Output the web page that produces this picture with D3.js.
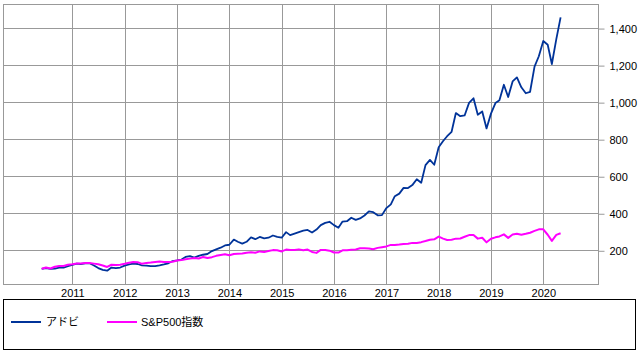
<!DOCTYPE html>
<html>
<head>
<meta charset="utf-8">
<script src="https://cdn.jsdelivr.net/npm/d3@7"></script>
<style>
  body { margin: 0; background: #fff; }
  text { font-family: "Liberation Sans", "Noto Sans CJK JP", sans-serif; font-size: 11px; fill: #000; }
</style>
</head>
<body>
<div id="drawing"></div>
<script>
// monthly points, June 2010 .. May 2020 (value indexed to 100 at start)
var firstMonth = new Date(2010, 5, 1);
var lastMonth = new Date(2020, 4, 1);

var adobe = [
  100, 104, 100, 101, 106, 106, 114,
  121, 128, 126, 129, 130, 118, 104, 94, 90, 107, 104, 107,
  117, 124, 128, 126, 119, 117, 115, 115, 119, 124, 130, 142,
  145, 150, 164, 169, 160, 170, 176, 180, 196, 205, 214, 226,
  230, 258, 246, 236, 246, 270, 260, 272, 264, 268, 280, 272,
  268, 298, 282, 290, 298, 306, 310, 296, 312, 336, 348, 354,
  336, 322, 355, 357, 376, 364, 372, 388, 410, 406, 389, 390,
  428, 448, 492, 506, 537, 536, 552, 584, 565, 660, 688, 662,
  756, 790, 816, 840, 941, 924, 928, 996, 1021, 932, 950, 858,
  938, 995, 1010, 1094, 1028, 1112, 1134, 1080, 1048, 1056, 1192, 1248,
  1330, 1310, 1206, 1340, 1458
];

var sp500 = [
  100, 107, 102, 111, 115, 115, 122,
  125, 129, 129, 132, 131, 128, 125, 118, 110, 122, 121, 122,
  127, 133, 137, 136, 127, 132, 134, 137, 140, 137, 137, 138,
  145, 147, 152, 155, 158, 156, 164, 158, 163, 170, 175, 179,
  173, 180, 182, 183, 187, 190, 187, 194, 191, 196, 201, 200,
  194, 204, 201, 202, 205, 200, 204, 191, 186, 202, 202, 198,
  188, 188, 200, 200, 203, 204, 211, 211, 210, 206, 213, 217,
  221, 229, 229, 231, 234, 235, 240, 240, 244, 250, 257, 259,
  274, 263, 256, 257, 263, 264, 273, 282, 283, 263, 268, 243,
  262, 270, 275, 286, 267, 285, 289, 284, 289, 295, 305, 313,
  313, 284, 251, 283, 292
];

var seriesNames = ["アドビ", "S&P500指数"];
var seriesColors = ["#003399", "#ff00ff"];
var yTicks = [200, 400, 600, 800, 1000, 1200, 1400];
var xTicks = d3.range(2011, 2021);

var width = 639;
var height = 355;
var plot = {left: 3, right: 598, top: 4, bottom: 284};

var months = d3.timeMonth.range(firstMonth, d3.timeMonth.offset(lastMonth, 1));

var svg = d3.select("#drawing").append("svg")
  .attr("width", width)
  .attr("height", height);

var xScale = d3.scaleTime()
  .domain([new Date(2009, 8, 4), new Date(2021, 0, 17)])
  .range([plot.left, plot.right]);

var yScale = d3.scaleLinear()
  .domain([18, 1530])
  .range([plot.bottom, plot.top]);

// grid
var grid = svg.append("g").attr("class", "grid")
  .attr("stroke", "#999").attr("stroke-width", 1).attr("shape-rendering", "crispEdges");

grid.selectAll(".hgrid")
  .data(yTicks)
  .enter().append("line")
  .attr("x1", plot.left).attr("x2", plot.right)
  .attr("y1", (d) => Math.round(yScale(d)) + 0.5)
  .attr("y2", (d) => Math.round(yScale(d)) + 0.5);

grid.selectAll(".vgrid")
  .data(xTicks)
  .enter().append("line")
  .attr("y1", plot.top).attr("y2", plot.bottom)
  .attr("x1", (d) => Math.round(xScale(new Date(d, 0, 1))) + 0.5)
  .attr("x2", (d) => Math.round(xScale(new Date(d, 0, 1))) + 0.5);

svg.append("rect")
  .attr("x", plot.left + 0.5).attr("y", plot.top + 0.5)
  .attr("width", plot.right - plot.left).attr("height", plot.bottom - plot.top)
  .attr("fill", "none").attr("stroke", "#999").attr("shape-rendering", "crispEdges");

// right axis
var yAxis = svg.append("g")
  .attr("transform", `translate(${plot.right + 0.5}, 0.5)`)
  .call(d3.axisRight(yScale).tickValues(yTicks).tickSize(6).tickPadding(5).tickFormat(d3.format(",")));
yAxis.select(".domain").remove();
yAxis.selectAll(".tick line").attr("stroke", "#999");
yAxis.selectAll(".tick text").attr("font-size", null).attr("font-family", null);

// bottom axis labels
var xAxis = svg.append("g")
  .attr("transform", `translate(0, ${plot.bottom})`)
  .call(d3.axisBottom(xScale).tickValues(xTicks.map((d) => new Date(d, 0, 1))).tickSize(0).tickPadding(5).tickFormat(d3.timeFormat("%Y")));
xAxis.select(".domain").remove();
xAxis.selectAll(".tick text").attr("font-size", null).attr("font-family", null);

// lines
var lineGenerator = d3.line()
  .x((d, i) => xScale(months[i]))
  .y((d) => yScale(d));

[adobe, sp500].forEach(function (values, k) {
  svg.append("path")
    .attr("d", lineGenerator(values))
    .attr("fill", "none")
    .attr("stroke", seriesColors[k])
    .attr("stroke-width", k == 0 ? 1.8 : 2)
    .attr("stroke-linejoin", "round");
});

// legend
svg.append("rect")
  .attr("x", 3.5).attr("y", 299.5)
  .attr("width", 632).attr("height", 50)
  .attr("fill", "none").attr("stroke", "#000").attr("shape-rendering", "crispEdges");

var legendX = [11, 107];
var legend = svg.selectAll(".legendItem")
  .data(seriesNames)
  .enter().append("g")
  .attr("transform", (d, i) => `translate(${legendX[i]}, 322)`);
legend.append("line")
  .attr("x1", 0).attr("x2", 30)
  .attr("stroke", (d, i) => seriesColors[i])
  .attr("stroke-width", 2);
legend.append("text")
  .attr("x", (d, i) => i == 0 ? 35 : 34)
  .attr("y", 4)
  .text((d) => d);
</script>
</body>
</html>
